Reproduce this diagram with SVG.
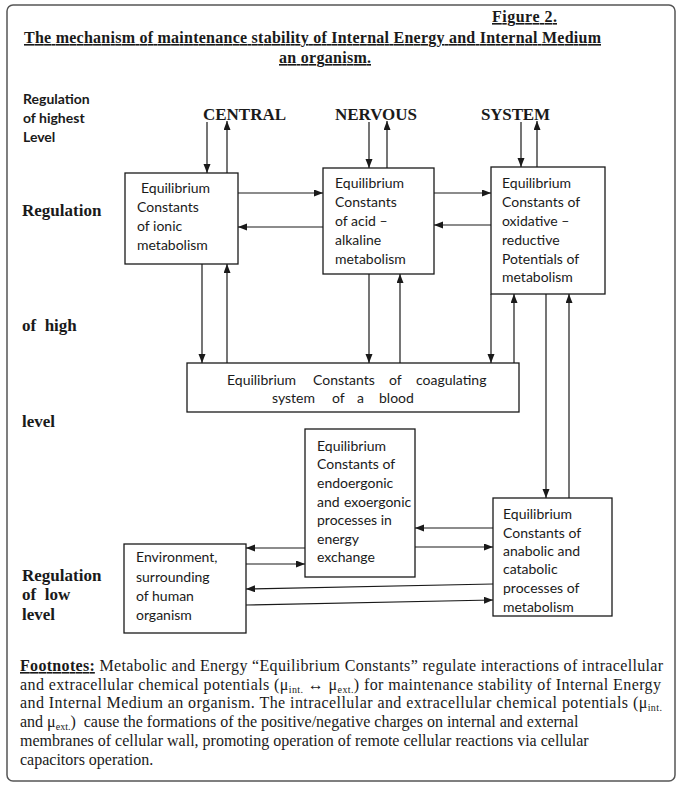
<svg xmlns="http://www.w3.org/2000/svg" width="681" height="787" viewBox="0 0 681 787">
<defs>
<marker id="ah" markerWidth="10" markerHeight="8" refX="9" refY="3.5" orient="auto" markerUnits="userSpaceOnUse"><path d="M0,0 L9,3.5 L0,7 z" fill="#1a1a1a"/></marker>
</defs>
<style>
.box{fill:#fff;stroke:#1a1a1a;stroke-width:1.3}
.bt{font-family:Lato,"Liberation Sans",sans-serif;font-size:14px;fill:#1a1a1a}
.c{fill:none;stroke:#1a1a1a;stroke-width:1.2;marker-end:url(#ah)}
.lvl{font-family:"Liberation Serif",serif;font-weight:bold;font-size:17px;fill:#1a1a1a}
.top{font-family:Lato,"Liberation Sans",sans-serif;font-weight:bold;font-size:14px;fill:#1a1a1a}
.cns{font-family:"Liberation Serif",serif;font-weight:bold;font-size:17px;fill:#1a1a1a}
.ttl{font-family:"Liberation Serif",serif;font-weight:bold;font-size:16px;text-decoration:underline;fill:#1a1a1a}
.fn{font-family:"Liberation Serif",serif;font-size:16px;fill:#1a1a1a}
.sub{font-size:10px}
</style>
<rect x="7" y="5" width="668" height="776" rx="6" fill="#fff" stroke="#555" stroke-width="1.5"/>

<g id="title">
<text class="ttl" x="492" y="22" textLength="65">Figure 2.</text>
<text class="ttl" x="24" y="43" textLength="577">The mechanism of maintenance stability of Internal Energy and Internal Medium</text>
<text class="ttl" x="279" y="63" textLength="92">an organism.</text>
</g>

<g id="level-labels">
<text class="top" x="23" y="104">Regulation</text>
<text class="top" x="23" y="123">of highest</text>
<text class="top" x="23" y="142">Level</text>
<text class="lvl" x="22" y="216">Regulation</text>
<text class="lvl" x="22" y="331" xml:space="preserve">of  high</text>
<text class="lvl" x="22" y="427">level</text>
<text class="lvl" x="22" y="581">Regulation</text>
<text class="lvl" x="22" y="600" xml:space="preserve">of  low</text>
<text class="lvl" x="22" y="620">level</text>
</g>

<g id="cns">
<text class="cns" x="203" y="120" textLength="83">CENTRAL</text>
<text class="cns" x="335" y="120" textLength="82">NERVOUS</text>
<text class="cns" x="481" y="120" textLength="69">SYSTEM</text>
</g>

<g id="ionic">
<rect class="box" x="125" y="173" width="113" height="91"/>
<text class="bt"><tspan x="141" y="193">Equilibrium</tspan><tspan x="137" y="212">Constants</tspan><tspan x="137" y="231">of ionic</tspan><tspan x="137" y="250">metabolism</tspan></text>
</g>

<g id="acid">
<rect class="box" x="323" y="168" width="111" height="106"/>
<text class="bt"><tspan x="335" y="188">Equilibrium</tspan><tspan x="335" y="207">Constants</tspan><tspan x="335" y="226">of acid –</tspan><tspan x="335" y="245">alkaline</tspan><tspan x="335" y="264">metabolism</tspan></text>
</g>

<g id="redox">
<rect class="box" x="491" y="167" width="114" height="127"/>
<text class="bt"><tspan x="502" y="188">Equilibrium</tspan><tspan x="502" y="207">Constants of</tspan><tspan x="502" y="226">oxidative –</tspan><tspan x="502" y="245">reductive</tspan><tspan x="502" y="264">Potentials of</tspan><tspan x="502" y="282">metabolism</tspan></text>
</g>

<g id="coag">
<rect class="box" x="187" y="363" width="332" height="49"/>
<text class="bt"><tspan x="227" y="385">Equilibrium</tspan><tspan x="313" y="385">Constants</tspan><tspan x="389" y="385">of</tspan><tspan x="416" y="385">coagulating</tspan><tspan x="272" y="403">system</tspan><tspan x="332" y="403">of</tspan><tspan x="357" y="403">a</tspan><tspan x="379" y="403">blood</tspan></text>
</g>

<g id="endo">
<rect class="box" x="305" y="429" width="110" height="148"/>
<text class="bt"><tspan x="317" y="451">Equilibrium</tspan><tspan x="317" y="469">Constants of</tspan><tspan x="317" y="488">endoergonic</tspan><tspan x="317" y="507">and</tspan><tspan x="344" y="507">exoergonic</tspan><tspan x="317" y="525">processes in</tspan><tspan x="317" y="544">energy</tspan><tspan x="317" y="562">exchange</tspan></text>
</g>

<g id="anabolic">
<rect class="box" x="493" y="498" width="119" height="118"/>
<text class="bt"><tspan x="503" y="519">Equilibrium</tspan><tspan x="503" y="538">Constants of</tspan><tspan x="503" y="556">anabolic and</tspan><tspan x="503" y="574">catabolic</tspan><tspan x="503" y="593">processes of</tspan><tspan x="503" y="612">metabolism</tspan></text>
</g>

<g id="environment">
<rect class="box" x="124" y="544" width="122" height="89"/>
<text class="bt"><tspan x="136" y="562">Environment,</tspan><tspan x="136" y="582">surrounding</tspan><tspan x="136" y="601">of human</tspan><tspan x="136" y="620">organism</tspan></text>
</g>

<g id="connectors">
<line class="c" x1="207" y1="122" x2="207" y2="173"/>
<line class="c" x1="227" y1="173" x2="227" y2="121"/>
<line class="c" x1="369" y1="122" x2="369" y2="168"/>
<line class="c" x1="387" y1="168" x2="387" y2="121"/>
<line class="c" x1="521" y1="122" x2="521" y2="167"/>
<line class="c" x1="537" y1="167" x2="537" y2="121"/>

<line class="c" x1="238" y1="193" x2="323" y2="193"/>
<line class="c" x1="323" y1="227" x2="238" y2="227"/>
<line class="c" x1="434" y1="193" x2="491" y2="193"/>
<line class="c" x1="491" y1="225" x2="434" y2="225"/>

<line class="c" x1="202" y1="264" x2="202" y2="363"/>
<line class="c" x1="227" y1="363" x2="227" y2="264"/>
<line class="c" x1="369" y1="274" x2="369" y2="363"/>
<line class="c" x1="400" y1="363" x2="400" y2="274"/>
<line class="c" x1="491" y1="294" x2="491" y2="363"/>
<line class="c" x1="514" y1="363" x2="514" y2="294"/>

<line class="c" x1="546" y1="294" x2="546" y2="498"/>
<line class="c" x1="569" y1="498" x2="569" y2="294"/>

<line class="c" x1="493" y1="528" x2="415" y2="528"/>
<line class="c" x1="415" y1="547" x2="493" y2="547"/>
<line class="c" x1="305" y1="548" x2="246" y2="548"/>
<line class="c" x1="246" y1="564" x2="305" y2="564"/>
<line class="c" x1="493" y1="584" x2="246" y2="589"/>
<line class="c" x1="246" y1="605" x2="493" y2="600"/>
</g>

<g id="footnotes">
<text class="fn" x="20" y="671" textLength="643"><tspan font-weight="bold" text-decoration="underline">Footnotes:</tspan> Metabolic and Energy “Equilibrium Constants” regulate interactions of intracellular</text>
<text class="fn" x="20" y="690" textLength="641">and extracellular chemical potentials (μ<tspan class="sub" dy="3">int.</tspan><tspan dy="-3"> ↔ μ</tspan><tspan class="sub" dy="3">ext.</tspan><tspan dy="-3">) for maintenance stability of Internal Energy</tspan></text>
<text class="fn" x="20" y="708" textLength="642">and Internal Medium an organism. The intracellular and extracellular chemical potentials (μ<tspan class="sub" dy="3">int.</tspan></text>
<text class="fn" x="20" y="727" xml:space="preserve">and μ<tspan class="sub" dy="3">ext.</tspan><tspan dy="-3">)  cause the formations of the positive/negative charges on internal and external</tspan></text>
<text class="fn" x="20" y="746">membranes of cellular wall, promoting operation of remote cellular reactions via cellular</text>
<text class="fn" x="20" y="765">capacitors operation.</text>
</g>
</svg>
